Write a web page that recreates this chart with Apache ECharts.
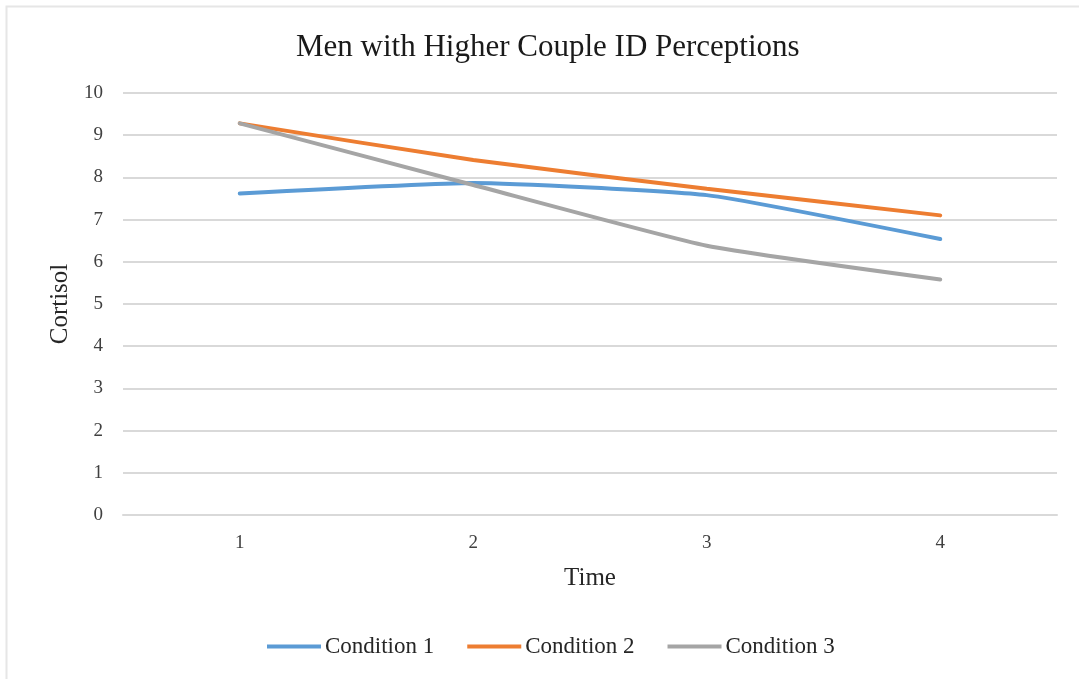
<!DOCTYPE html>
<html>
<head>
<meta charset="utf-8">
<script src="https://cdn.jsdelivr.net/npm/echarts@6/dist/echarts.min.js"></script>
<style>
html,body{margin:0;padding:0;background:#fff;}
#chart{width:1079px;height:679px;}
</style>
</head>
<body>
<div id="chart"></div>
<script>
var categories = ['1', '2', '3', '4'];
var condition1 = [7.62, 7.87, 7.58, 6.54];
var condition2 = [9.28, 8.41, 7.73, 7.10];
var condition3 = [9.28, 7.82, 6.38, 5.58];
var seriesNames = ['Condition 1', 'Condition 2', 'Condition 3'];
var colors = ['#5B9BD5', '#ED7D31', '#A5A5A5'];

var FONT = '"Liberation Serif", "Times New Roman", serif';
var chart = echarts.init(document.getElementById('chart'), null, {renderer: 'canvas'});
function mk(name, data, color) {
  return {
    name: name, type: 'line', data: data, smooth: 0.15,
    symbol: 'none', lineStyle: {width: 4, color: color, cap: 'round'},
    itemStyle: {color: color}
  };
}
chart.setOption({
  animation: false,
  backgroundColor: '#ffffff',
  color: colors,
  graphic: [{
    type: 'rect', shape: {x: 6.5, y: 6.5, width: 1100, height: 700},
    style: {fill: 'none', stroke: '#e6e6e6', lineWidth: 2}, silent: true
  }],
  title: {
    text: 'Men with Higher Couple ID Perceptions',
    left: 291, top: 27,
    textStyle: {fontFamily: FONT, fontSize: 31, fontWeight: 'normal', color: '#1a1a1a'}
  },
  legend: {
    top: 630, left: 262,
    icon: 'rect', itemWidth: 54, itemHeight: 4, itemGap: 33,
    textStyle: {fontFamily: FONT, fontSize: 23, color: '#262626', padding: [0, 0, 0, -1]},
    data: seriesNames
  },
  grid: {left: 123, right: 22, top: 93, bottom: 164},
  xAxis: {
    type: 'category', data: categories, boundaryGap: true,
    name: 'Time', nameLocation: 'middle', nameGap: 51,
    nameTextStyle: {fontFamily: FONT, fontSize: 25, color: '#262626'},
    axisLine: {show: true, lineStyle: {color: '#d9d9d9', width: 2}},
    axisTick: {show: false},
    axisLabel: {fontFamily: FONT, fontSize: 19, color: '#404040', margin: 19}
  },
  yAxis: {
    type: 'value', min: 0, max: 10, interval: 1,
    name: 'Cortisol', nameLocation: 'middle', nameGap: 50, nameRotate: 90,
    nameTextStyle: {fontFamily: FONT, fontSize: 25, color: '#262626'},
    axisLine: {show: false}, axisTick: {show: false},
    axisLabel: {fontFamily: FONT, fontSize: 19, color: '#404040', margin: 20},
    splitLine: {lineStyle: {color: '#d9d9d9', width: 2}}
  },
  series: [
    mk(seriesNames[0], condition1, colors[0]),
    mk(seriesNames[1], condition2, colors[1]),
    mk(seriesNames[2], condition3, colors[2])
  ]
});
</script>
</body>
</html>
